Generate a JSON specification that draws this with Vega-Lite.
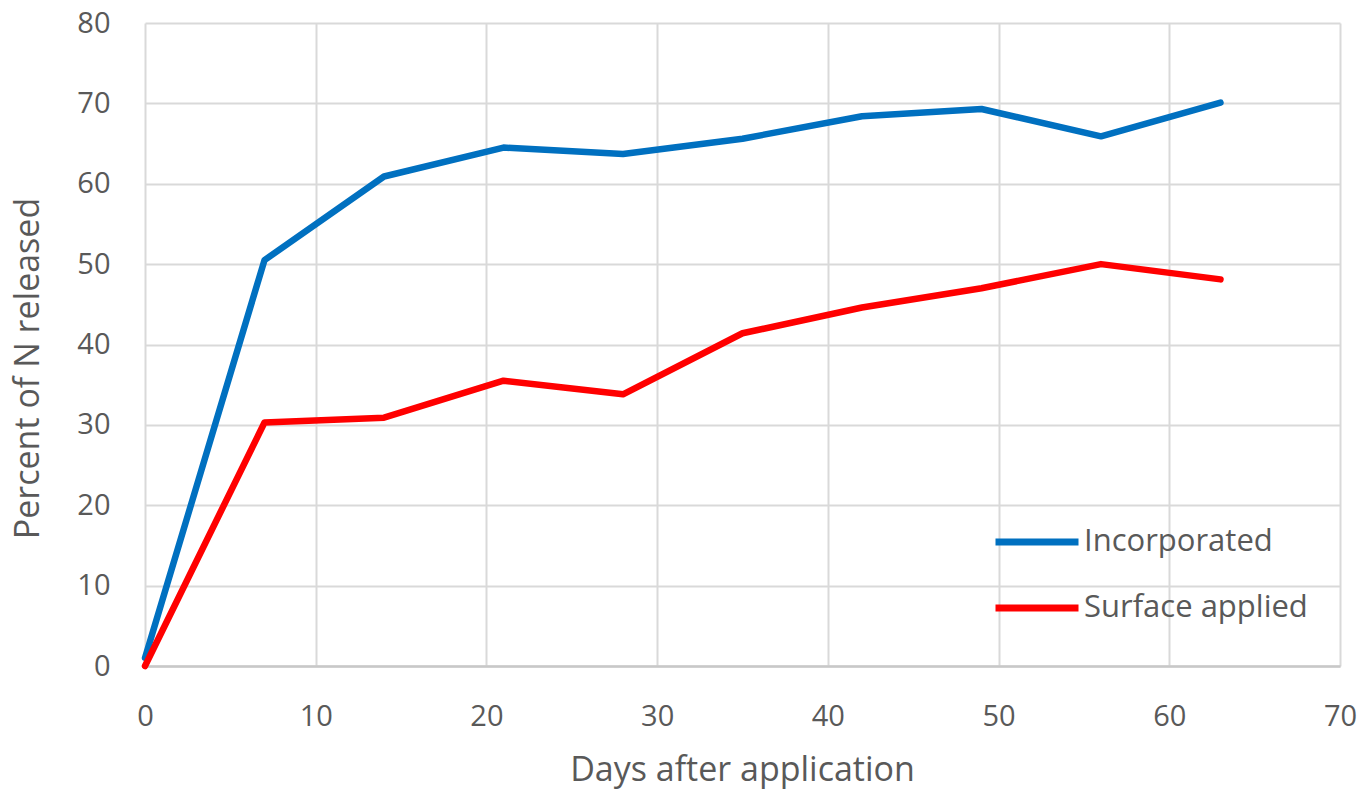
{
  "$schema": "https://vega.github.io/schema/vega-lite/v6.json",
  "width": 1195,
  "height": 643,
  "autosize": "none",
  "padding": {"left": 145, "top": 23, "right": 27, "bottom": 123},
  "background": "white",
  "config": {
    "font": "Open Sans",
    "view": {"stroke": null},
    "axis": {"labelColor": "#595959", "titleColor": "#595959", "titleFontWeight": "normal", "gridColor": "#d9d9d9", "gridWidth": 2, "ticks": false, "tickSize": 0}
  },
  "data": {
    "values": [
      {"day": 0, "pct": 1.0, "series": "Incorporated"},
      {"day": 7, "pct": 50.5, "series": "Incorporated"},
      {"day": 14, "pct": 60.9, "series": "Incorporated"},
      {"day": 21, "pct": 64.5, "series": "Incorporated"},
      {"day": 28, "pct": 63.7, "series": "Incorporated"},
      {"day": 35, "pct": 65.6, "series": "Incorporated"},
      {"day": 42, "pct": 68.4, "series": "Incorporated"},
      {"day": 49, "pct": 69.3, "series": "Incorporated"},
      {"day": 56, "pct": 65.9, "series": "Incorporated"},
      {"day": 63, "pct": 70.1, "series": "Incorporated"},
      {"day": 0, "pct": 0.0, "series": "Surface applied"},
      {"day": 7, "pct": 30.3, "series": "Surface applied"},
      {"day": 14, "pct": 30.9, "series": "Surface applied"},
      {"day": 21, "pct": 35.5, "series": "Surface applied"},
      {"day": 28, "pct": 33.8, "series": "Surface applied"},
      {"day": 35, "pct": 41.4, "series": "Surface applied"},
      {"day": 42, "pct": 44.6, "series": "Surface applied"},
      {"day": 49, "pct": 47.0, "series": "Surface applied"},
      {"day": 56, "pct": 50.0, "series": "Surface applied"},
      {"day": 63, "pct": 48.1, "series": "Surface applied"}
    ]
  },
  "mark": {"type": "line", "strokeWidth": 6.5, "strokeCap": "round", "strokeJoin": "round"},
  "encoding": {
    "x": {
      "field": "day", "type": "quantitative",
      "scale": {"domain": [0, 70], "nice": false, "zero": true},
      "axis": {
        "title": "Days after application", "values": [0, 10, 20, 30, 40, 50, 60, 70],
        "labelFontSize": 29, "labelPadding": 36, "labelBaseline": "top", "labelFlush": false, "labelOverlap": false,
        "titleFontSize": 34, "titleX": 597, "titleY": 114, "titleBaseline": "alphabetic", "titleAlign": "center",
        "domain": true, "domainColor": "#c8c8c8", "domainWidth": 2.5
      }
    },
    "y": {
      "field": "pct", "type": "quantitative",
      "scale": {"domain": [0, 80], "nice": false},
      "axis": {
        "title": "Percent of N released", "values": [0, 10, 20, 30, 40, 50, 60, 70, 80],
        "labelFontSize": 29, "labelPadding": 35,
        "titleFontSize": 34, "titleX": -117, "titleY": 345, "titleAngle": -90, "titleAlign": "center", "titleBaseline": "middle",
        "domain": false
      }
    },
    "color": {
      "field": "series", "type": "nominal",
      "scale": {"domain": ["Incorporated", "Surface applied"], "range": ["#0070C0", "#FF0000"]},
      "legend": {
        "title": null, "orient": "none", "legendX": 847, "legendY": 474, "padding": 0,
        "symbolType": "stroke", "symbolSize": 6889, "symbolStrokeWidth": 7, "symbolOffset": 0,
        "labelFontSize": 31, "labelColor": "#595959", "labelOffset": 2, "rowPadding": 6, "labelLimit": 0
      }
    }
  }
}
